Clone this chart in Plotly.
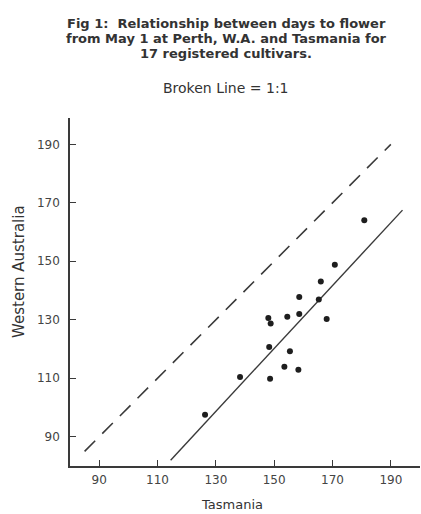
import plotly.graph_objects as go

# Data (days to flower from May 1)
tasmania = [126.3, 138.3, 148.6, 153.5, 158.3, 155.4, 148.3, 148.0, 148.8,
            154.5, 158.6, 168.0, 165.3, 158.6, 166.0, 170.8, 180.9]
western_australia = [97.5, 110.4, 109.8, 113.9, 112.9, 119.2, 120.7, 130.6, 128.7,
                     131.0, 132.0, 130.3, 136.9, 137.8, 143.1, 148.8, 164.0]

# 1:1 reference line (broken) and fitted regression line (solid)
one_to_one_x = [85, 190]
one_to_one_y = [85, 190]
regression_x = [114.5, 194]
regression_y = [82, 167.5]

tick_vals = [90, 110, 130, 150, 170, 190]
tick_text = ["90", "110", "130", "150", "170", "190"]

title_lines = ["Fig 1:  Relationship between days to flower",
               "from May 1 at Perth, W.A. and Tasmania for",
               "17 registered cultivars."]

ink = "#3a3a3a"
font_family = "DejaVu Sans"

fig = go.Figure()
fig.add_trace(go.Scatter(x=one_to_one_x, y=one_to_one_y, mode="lines",
                         line=dict(color=ink, width=1.6, dash="15px,10px"),
                         showlegend=False, hoverinfo="skip"))
fig.add_trace(go.Scatter(x=regression_x, y=regression_y, mode="lines",
                         line=dict(color=ink, width=1.4),
                         showlegend=False, hoverinfo="skip"))
fig.add_trace(go.Scatter(x=tasmania, y=western_australia, mode="markers",
                         marker=dict(color="#1e1e1e", size=6),
                         showlegend=False))

L, R, T, B = 70, 1, 118, 48
W, H = 421, 514
pw = W - L - R
ph = H - T - B

def px(x):
    return (x - L) / pw

def py(y):
    return (H - B - y) / ph

axis_common = dict(
    showline=True, linecolor=ink, linewidth=1.6,
    ticks="inside", ticklen=6, tickwidth=1.4, tickcolor=ink,
    tickvals=tick_vals, ticktext=tick_text,
    showgrid=False, zeroline=False,
    tickfont=dict(family=font_family, size=12, color="#444"),
)

annotations = []
for i, line in enumerate(title_lines):
    annotations.append(dict(
        text="<b>" + line + "</b>", xref="paper", yref="paper",
        x=px(226), y=py(23 + 15 * i), xanchor="center", yanchor="middle",
        showarrow=False, font=dict(family=font_family, size=13, color="#333")))
annotations += [
    dict(text="Broken Line = 1:1",
         xref="paper", yref="paper", x=px(226), y=py(88),
         xanchor="center", yanchor="middle", showarrow=False,
         font=dict(family=font_family, size=14, color="#333")),
    dict(text="Western Australia",
         xref="paper", yref="paper", x=px(19), y=py(272),
         xanchor="center", yanchor="middle", showarrow=False, textangle=-90,
         font=dict(family=font_family, size=15, color="#333")),
    dict(text="Tasmania",
         xref="paper", yref="paper", x=px(232), y=py(504),
         xanchor="center", yanchor="middle", showarrow=False,
         font=dict(family=font_family, size=13, color="#333")),
]

fig.update_layout(
    width=W, height=H,
    margin=dict(l=L, r=R, t=T, b=B),
    paper_bgcolor="white", plot_bgcolor="white",
    xaxis=dict(range=[80, 200], ticklabelstandoff=2, **axis_common),
    yaxis=dict(range=[80, 199], ticklabelstandoff=6, **axis_common),
    annotations=annotations,
)

fig.write_html("out.html",
               config={"displayModeBar": False},
               post_script="document.body.style.margin='0';document.body.style.overflow='hidden';")
